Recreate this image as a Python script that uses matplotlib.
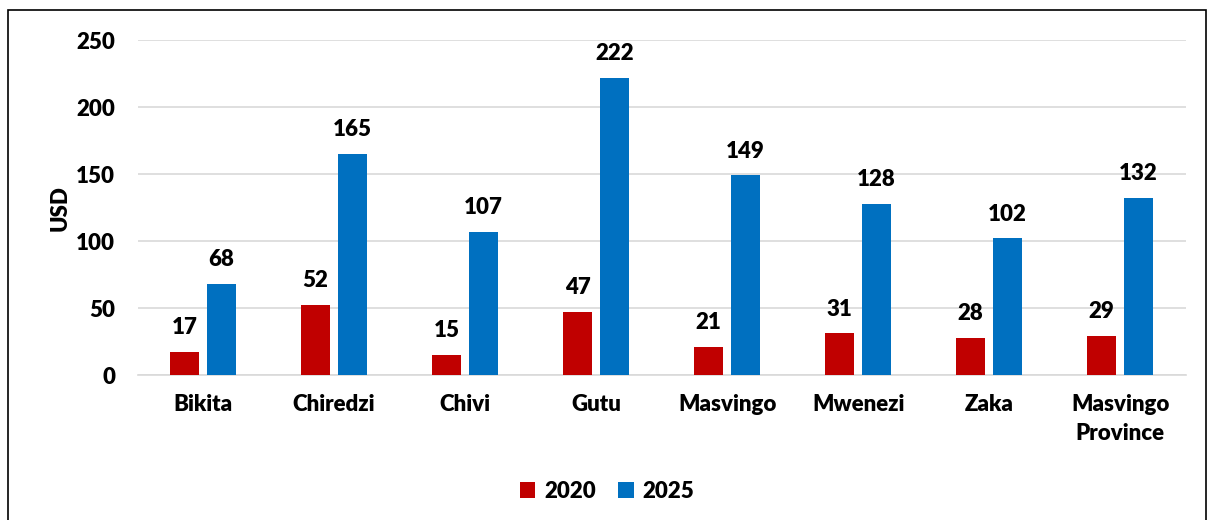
import matplotlib.pyplot as plt
import matplotlib.patches as mpatches
import numpy as np

plt.rcParams['font.family'] = ['Lato', 'DejaVu Sans']
plt.rcParams['font.weight'] = 'heavy'
plt.rcParams['axes.labelweight'] = 'heavy'

# data
districts = ['Bikita', 'Chiredzi', 'Chivi', 'Gutu', 'Masvingo', 'Mwenezi', 'Zaka',
             'Masvingo\nProvince']
vals_2020 = [17, 52, 15, 47, 21, 31, 28, 29]
vals_2025 = [68, 165, 107, 222, 149, 128, 102, 132]
yticks = [0, 50, 100, 150, 200, 250]

red = '#C00000'
blue = '#0070C0'
fs = 16

fig = plt.figure(figsize=(12.14, 5.2), dpi=100)
ax = fig.add_axes([0.1133, 0.2788, 0.8633, 0.644])

x = np.arange(len(districts))
w = 0.22
off = 0.141
b1 = ax.bar(x - off, vals_2020, w, color=red, label='2020', zorder=3)
b2 = ax.bar(x + off, vals_2025, w, color=blue, label='2025', zorder=3)

for bars in (b1, b2):
    for b in bars:
        ax.annotate(f'{int(b.get_height())}', (b.get_x() + b.get_width() / 2, b.get_height()),
                    xytext=(0, 10), textcoords='offset points', ha='center', va='bottom',
                    fontsize=fs)

ax.set_xlim(-0.5, len(districts) - 0.5)
ax.set_ylim(0, 250)
ax.set_yticks(yticks)
ax.set_xticks(x)
ax.set_xticklabels(districts, fontsize=fs, linespacing=1.45)
ax.tick_params(axis='y', labelsize=fs, length=0, pad=16)
ax.tick_params(axis='x', length=0, pad=14)
ax.grid(axis='y', color='#d9d9d9', linewidth=1.2, zorder=0)
for s in ['top', 'right', 'left']:
    ax.spines[s].set_visible(False)
ax.spines['bottom'].set_color('#d9d9d9')
ax.spines['bottom'].set_linewidth(1.2)
ax.set_ylabel('USD', fontsize=fs, fontweight='heavy', labelpad=4)

fig.legend(handles=[b1, b2], loc='center', bbox_to_anchor=(0.5, 0.055), ncol=2,
           frameon=False, fontsize=fs, handlelength=0.7, handleheight=0.7,
           columnspacing=1.0, handletextpad=0.4)

# outer frame
fig.patches.append(mpatches.Rectangle((8 / 1214, -0.05), 1198 / 1214, 1.05 - 10 / 520,
                                      transform=fig.transFigure, fill=False,
                                      edgecolor='black', linewidth=1.2))

fig.savefig('out.png', dpi=100)
